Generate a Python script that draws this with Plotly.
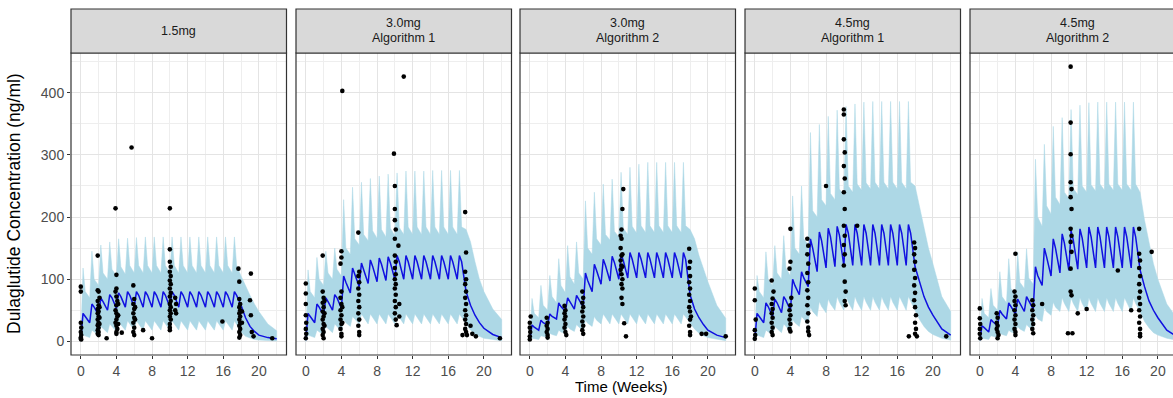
import plotly.graph_objects as go

# ---------------- data ----------------
panel_titles = ["1.5mg", "3.0mg|Algorithm 1", "3.0mg|Algorithm 2", "4.5mg|Algorithm 1", "4.5mg|Algorithm 2"]

# simulation time grid (weeks)
weeks_sim = [0, 0.25, 0.5, 1, 1.25, 1.5, 2, 2.25, 2.5, 3, 3.25, 3.5, 4, 4.25, 4.5, 5, 5.25, 5.5,
             6, 6.25, 6.5, 7, 7.25, 7.5, 8, 8.25, 8.5, 9, 9.25, 9.5, 10, 10.25, 10.5, 11, 11.25, 11.5,
             12, 12.25, 12.5, 13, 13.25, 13.5, 14, 14.25, 14.5, 15, 15.25, 15.5, 16, 16.25, 16.5,
             17, 17.25, 17.5, 18, 18.5, 19, 19.5, 20, 21, 22]

# 90% prediction interval upper / median / lower (ng/ml)
upper_1 = [0, 118, 80, 70, 145, 100, 90, 155, 110, 100, 160, 116, 105, 165, 120, 108, 166, 122,
           110, 167, 122, 110, 168, 122, 110, 168, 122, 110, 168, 122, 110, 168, 122, 110, 168, 122,
           110, 168, 122, 110, 168, 122, 110, 168, 122, 110, 168, 122, 110, 168, 122, 110, 168, 122,
           105, 88, 74, 60, 48, 28, 17]
median_1 = [2, 45, 40, 30, 60, 55, 42, 70, 64, 50, 75, 70, 53, 78, 72, 55, 80, 74,
            55, 80, 74, 55, 80, 74, 55, 80, 74, 55, 80, 74, 55, 80, 74, 55, 80, 74,
            55, 80, 74, 55, 80, 74, 55, 80, 74, 55, 80, 74, 55, 80, 74, 55, 80, 74,
            58, 38, 24, 16, 10, 6, 4]
lower_1 = [0, 10, 8, 6, 18, 15, 10, 24, 20, 14, 28, 24, 16, 31, 27, 18, 33, 28,
           18, 33, 28, 18, 33, 28, 18, 33, 28, 18, 33, 28, 18, 33, 28, 18, 33, 28,
           18, 33, 28, 18, 33, 28, 18, 33, 28, 18, 33, 28, 18, 33, 28, 18, 33, 28,
           15, 8, 5, 3, 2, 1, 0.5]

upper_2 = [0, 115, 80, 70, 135, 100, 90, 145, 110, 100, 150, 116, 105, 228, 150, 140, 248, 165,
           155, 256, 172, 162, 262, 178, 166, 266, 180, 168, 269, 182, 170, 271, 183, 172, 274, 184,
           172, 274, 184, 172, 274, 184, 172, 275, 184, 172, 275, 184, 172, 275, 184, 172, 275, 184,
           180, 160, 128, 100, 80, 52, 35]
median_2 = [2, 45, 40, 30, 60, 55, 42, 70, 64, 50, 75, 70, 53, 105, 95, 78, 118, 108,
            88, 126, 116, 93, 131, 121, 96, 134, 124, 98, 136, 126, 100, 138, 128, 100, 138, 128,
            100, 138, 128, 100, 138, 128, 100, 138, 128, 100, 138, 128, 100, 138, 128, 100, 138, 128,
            80, 58, 42, 30, 21, 11, 6]
lower_2 = [0, 10, 8, 6, 18, 15, 10, 24, 20, 14, 28, 24, 16, 35, 30, 24, 40, 35,
           28, 44, 38, 28, 44, 38, 28, 44, 38, 28, 44, 38, 28, 44, 38, 28, 44, 38,
           28, 44, 38, 28, 44, 38, 28, 44, 38, 28, 44, 38, 28, 44, 38, 28, 44, 38,
           28, 18, 12, 8, 5, 3, 1]

upper_3 = [0, 69, 45, 38, 90, 58, 50, 106, 72, 62, 133, 90, 78, 154, 104, 92, 160, 110,
           100, 226, 150, 140, 240, 165, 155, 253, 172, 163, 261, 177, 168, 272, 182, 172, 280, 185,
           174, 285, 186, 175, 288, 186, 175, 288, 186, 175, 288, 186, 175, 288, 186, 175, 288, 186,
           180, 165, 138, 115, 96, 58, 37]
median_3 = [2, 26, 23, 18, 34, 30, 26, 44, 40, 36, 62, 56, 48, 70, 64, 52, 74, 68,
            55, 110, 98, 80, 124, 114, 92, 132, 122, 97, 137, 127, 100, 140, 130, 102, 143, 132,
            102, 143, 132, 102, 143, 132, 102, 143, 132, 102, 143, 132, 102, 143, 132, 102, 143, 132,
            75, 52, 38, 27, 18, 10, 6]
lower_3 = [0, 5, 4, 3, 9, 8, 6, 13, 11, 9, 18, 15, 13, 24, 20, 16, 27, 23,
           18, 34, 29, 24, 40, 34, 28, 44, 38, 28, 44, 38, 28, 44, 38, 28, 44, 38,
           28, 44, 38, 28, 44, 38, 28, 44, 38, 28, 44, 38, 28, 44, 38, 28, 44, 38,
           30, 20, 13, 9, 6, 3, 1]

upper_4 = [0, 106, 80, 70, 144, 100, 90, 154, 110, 100, 170, 118, 105, 234, 150, 140, 250, 165,
           155, 336, 210, 200, 349, 228, 218, 362, 238, 228, 372, 245, 235, 378, 250, 240, 382, 253,
           243, 385, 255, 245, 386, 256, 245, 386, 256, 245, 386, 256, 245, 386, 256, 245, 386, 256,
           250, 215, 180, 150, 125, 72, 48]
median_4 = [2, 45, 40, 30, 62, 56, 40, 68, 62, 46, 72, 66, 50, 100, 90, 75, 112, 102,
            88, 165, 150, 112, 176, 162, 118, 182, 168, 120, 185, 171, 122, 188, 174, 122, 188, 174,
            122, 188, 174, 122, 188, 174, 122, 188, 174, 122, 188, 174, 122, 188, 174, 122, 188, 174,
            120, 95, 72, 55, 42, 20, 10]
lower_4 = [0, 10, 8, 6, 18, 15, 10, 24, 20, 14, 28, 24, 16, 35, 30, 24, 40, 35,
           28, 55, 48, 40, 64, 56, 46, 68, 60, 50, 72, 63, 50, 72, 63, 50, 72, 63,
           50, 72, 63, 50, 72, 63, 50, 72, 63, 50, 72, 63, 50, 72, 63, 50, 72, 63,
           50, 35, 24, 16, 11, 5, 2]

upper_5 = [0, 69, 45, 38, 85, 58, 50, 112, 72, 62, 133, 85, 75, 144, 95, 85, 149, 102,
           92, 293, 200, 185, 317, 218, 205, 346, 232, 220, 360, 240, 230, 373, 246, 236, 380, 250,
           240, 384, 252, 242, 385, 253, 243, 385, 253, 243, 385, 253, 243, 385, 253, 243, 385, 253,
           240, 195, 160, 125, 100, 60, 40]
median_5 = [2, 25, 22, 15, 35, 31, 25, 50, 44, 36, 62, 56, 44, 68, 62, 48, 72, 66,
            52, 120, 106, 90, 150, 136, 105, 165, 150, 110, 173, 158, 114, 178, 163, 116, 181, 166,
            118, 184, 168, 118, 184, 168, 118, 184, 168, 118, 184, 168, 118, 184, 168, 118, 184, 168,
            115, 88, 65, 50, 38, 18, 9]
lower_5 = [0, 5, 4, 3, 9, 8, 6, 13, 11, 9, 18, 15, 13, 24, 20, 16, 27, 23,
           18, 42, 36, 32, 55, 48, 42, 63, 55, 48, 70, 61, 48, 70, 61, 48, 70, 61,
           48, 70, 61, 48, 70, 61, 48, 70, 61, 48, 70, 61, 48, 70, 61, 48, 70, 61,
           48, 32, 22, 14, 10, 5, 2]

# observed concentrations: (week, ng/ml)
obs_1 = [(0, 88), (0, 80), (0, 30), (0.05, 22), (0, 15), (0.05, 10), (0, 6), (0, 4), (0.05, 3),
         (1.9, 138), (1.9, 82), (2, 80), (1.9, 65), (2, 58), (1.9, 52), (2, 48), (1.9, 45), (2, 40),
         (1.9, 35), (2, 30), (1.9, 26), (2, 22), (1.9, 18), (2, 15), (1.9, 12), (2, 10), (2.1, 70),
         (2.1, 55), (2.1, 38), (2.1, 28), (2.9, 5),
         (3.9, 214), (4, 107), (4, 85), (3.9, 80), (4, 72), (4.1, 65), (4, 58), (3.9, 50), (4, 45),
         (4.1, 40), (4, 35), (3.9, 30), (4, 25), (4.1, 20), (4, 15), (4, 12), (4.2, 60), (4.2, 42),
         (4.2, 28), (4.6, 14),
         (5.7, 312), (5.9, 90), (6, 68), (5.9, 60), (6, 52), (5.9, 45), (6, 38), (5.9, 30), (6, 22),
         (5.9, 15), (6, 10), (6.1, 55), (6.1, 35), (7, 18), (8, 5),
         (10, 214), (10, 148), (10, 128), (10.1, 120), (10, 112), (10.1, 105), (10, 98), (10.1, 92),
         (10, 85), (10.1, 78), (10, 72), (10.1, 65), (10, 60), (10.1, 55), (10, 50), (10.1, 45),
         (10, 40), (10.1, 35), (10, 28), (10, 22), (10, 18), (10.6, 70), (10.7, 60), (10.6, 50),
         (10.7, 45), (15.9, 32),
         (17.7, 117), (17.8, 96), (17.8, 68), (17.9, 60), (17.8, 55), (17.9, 50), (17.8, 45),
         (17.9, 40), (17.8, 35), (17.9, 30), (17.8, 25), (17.9, 20), (17.8, 15), (17.9, 10),
         (17.8, 6), (18.1, 48), (18.1, 30), (19.1, 109), (19, 66), (19.1, 42), (19.2, 15),
         (19.4, 8), (21.5, 5)]
obs_2 = [(0, 93), (0, 77), (0, 42), (0.05, 30), (0, 20), (0.05, 12), (0, 5), (0, 60),
         (1.9, 138), (1.9, 80), (2, 70), (1.9, 62), (2, 55), (1.9, 48), (2, 40), (1.9, 35), (2, 28),
         (1.9, 20), (2, 15), (1.9, 10), (2, 5), (2.1, 65), (2.1, 45), (2.1, 25),
         (4.1, 403), (4, 145), (4, 135), (3.9, 125), (4, 80), (3.9, 70), (4, 60), (3.9, 50), (4, 42),
         (3.9, 35), (4, 28), (3.9, 20), (4, 12), (4, 8), (4.1, 55), (4.1, 30),
         (5.9, 175), (6, 112), (5.9, 105), (6, 95), (5.9, 85), (6, 75), (5.9, 65), (6, 55),
         (5.9, 45), (6, 35), (5.9, 25), (6, 15), (6, 10),
         (9.9, 302), (10, 250), (10, 213), (10, 195), (10.1, 180), (10, 165), (10, 138),
         (10.1, 128), (10, 118), (10.1, 108), (10, 100), (10.1, 92), (10, 85), (10.1, 75),
         (10, 65), (10.1, 55), (10, 45), (10.1, 35), (10.2, 26), (10.4, 154), (10.5, 60),
         (10.5, 40), (11, 426),
         (17.6, 10), (17.9, 208), (18, 143), (17.9, 112), (18, 100), (17.9, 92), (18, 80),
         (17.9, 70), (18, 60), (17.9, 50), (18, 42), (17.9, 35), (18, 28), (17.9, 20), (18, 15),
         (18.1, 10), (18.5, 25), (18.7, 12), (19.1, 8), (21.8, 5)]
obs_3 = [(0, 30), (0, 22), (0.05, 15), (0, 8), (0, 3), (0.1, 40),
         (1.9, 38), (2, 30), (1.9, 25), (2, 20), (1.9, 15), (2, 10), (2, 6),
         (3.9, 57), (4, 50), (3.9, 45), (4, 40), (3.9, 35), (4, 28), (3.9, 22), (4, 15), (4.1, 10),
         (5.9, 80), (6, 70), (5.9, 62), (6, 55), (5.9, 48), (6, 40), (5.9, 32), (6, 25), (5.9, 18),
         (6, 12),
         (10.5, 245), (10.4, 213), (10.3, 180), (10.2, 170), (10.3, 165), (10.2, 150), (10.3, 138),
         (10.2, 130), (10.3, 122), (10.2, 115), (10.3, 108), (10.4, 100), (10.3, 92), (10.4, 85),
         (10.3, 70), (10.4, 60), (10.6, 29), (10.8, 8), (10.4, 140), (10.4, 120),
         (17.9, 149), (18, 128), (17.9, 118), (18, 105), (17.9, 95), (18, 85), (17.9, 75), (18, 65),
         (17.9, 55), (18, 48), (18.1, 40), (18, 35), (17.9, 25), (18, 15), (18, 10),
         (19.3, 12), (19.8, 12), (22, 8)]
obs_4 = [(0, 85), (0, 66), (0, 18), (0.05, 10), (0, 4), (0.1, 35),
         (1.9, 98), (2, 69), (1.9, 60), (2, 52), (1.9, 45), (2, 38), (1.9, 30), (2, 22), (1.9, 15),
         (2, 10), (2.1, 80),
         (4, 181), (4, 128), (3.9, 117), (4, 58), (3.9, 50), (4, 42), (3.9, 35), (4, 28), (3.9, 20),
         (4, 16), (4.1, 70),
         (5.9, 165), (6, 154), (5.9, 140), (6, 125), (5.9, 110), (6, 95), (5.9, 82), (6, 70),
         (5.9, 58), (6, 45), (5.9, 32), (6, 22), (6, 16), (6.1, 10), (8, 250),
         (10, 373), (10, 365), (10, 325), (10.1, 304), (10, 282), (10.1, 262), (10, 240),
         (10.1, 213), (10, 186), (10.1, 170), (10, 155), (10.1, 140), (10, 122), (10.1, 96),
         (10.2, 80), (10.1, 65), (10.2, 58), (11.5, 186),
         (17.3, 8), (17.9, 159), (18, 150), (17.9, 140), (18, 128), (17.9, 115), (18, 102),
         (17.9, 90), (18, 78), (17.9, 66), (18, 55), (18.1, 42), (18, 30), (18.1, 20), (18, 12),
         (18.2, 8), (21.5, 8)]
obs_5 = [(0, 53), (0, 37), (0.05, 28), (0, 20), (0, 12), (0.05, 5),
         (1.9, 45), (2, 38), (1.9, 30), (2, 25), (1.9, 20), (2, 15), (2.1, 10), (2, 5),
         (4, 141), (3.9, 80), (4, 72), (3.9, 65), (4, 58), (3.9, 50), (4, 42), (3.9, 35), (4, 28),
         (3.9, 20), (4, 15), (4, 10),
         (5.9, 66), (6, 58), (5.9, 50), (6, 42), (5.9, 35), (6, 28), (5.9, 20), (6, 13), (7, 60),
         (10.2, 442), (10.2, 352), (10.2, 301), (10.2, 256), (10.3, 245), (10.2, 232), (10.3, 213),
         (10.2, 181), (10.3, 170), (10.2, 160), (10.3, 144), (10.2, 117), (10.2, 80), (10.3, 74),
         (9.9, 13), (10.4, 13), (11, 45), (12, 52), (15.5, 114), (17, 50),
         (17.9, 181), (17.9, 141), (18, 130), (17.9, 118), (18, 105), (17.9, 92), (18, 80),
         (17.9, 70), (18, 60), (17.9, 50), (18, 40), (17.9, 30), (18, 20), (18, 12), (18, 8),
         (19.3, 144)]

x_ticks = [0, 4, 8, 12, 16, 20]
y_ticks = [0, 100, 200, 300, 400]

uppers = [upper_1, upper_2, upper_3, upper_4, upper_5]
medians = [median_1, median_2, median_3, median_4, median_5]
lowers = [lower_1, lower_2, lower_3, lower_4, lower_5]
observed = [obs_1, obs_2, obs_3, obs_4, obs_5]
for arr in uppers + medians + lowers:
    assert len(arr) == len(weeks_sim), len(arr)

# ---------------- layout geometry (pixels) ----------------
W, H = 1173, 398
panel_left = [71, 296, 520, 745, 970]
panel_w = 215.5
plot_top, plot_bot = 53, 355
strip_top = 9
x_full = [-1.1, 23.1]
px_per_week = panel_w / (x_full[1] - x_full[0])
y_range = [-22, 464]

FONT = "Liberation Sans, Arial, sans-serif"
GRID = "#E4E4E4"
GRID_MINOR = "#EEEEEE"
BORDER = "#333333"

fig = go.Figure()
layout = dict(
    width=W, height=H, autosize=False,
    margin=dict(l=0, r=0, t=0, b=0),
    paper_bgcolor="white", plot_bgcolor="white",
    showlegend=False, font=dict(family=FONT),
)
shapes, annotations = [], []

def px_x(v):
    return v / W

def px_y(v):
    return (H - v) / H

for i in range(5):
    sfx = "" if i == 0 else str(i + 1)
    left = panel_left[i]
    right = min(left + panel_w, W)
    xr = [x_full[0], x_full[0] + (right - left) / px_per_week]

    t = weeks_sim
    fig.add_trace(go.Scatter(
        x=t + t[::-1], y=uppers[i] + lowers[i][::-1],
        fill="toself", fillcolor="#ADD8E6", mode="lines",
        line=dict(color="#ADD8E6", width=0.5), hoverinfo="skip",
        xaxis="x" + sfx, yaxis="y" + sfx))
    fig.add_trace(go.Scatter(
        x=t, y=medians[i], mode="lines",
        line=dict(color="#1010E0", width=1.5),
        xaxis="x" + sfx, yaxis="y" + sfx))
    ox = [p[0] for p in observed[i]]
    oy = [p[1] for p in observed[i]]
    fig.add_trace(go.Scatter(
        x=ox, y=oy, mode="markers",
        marker=dict(color="black", size=4.6),
        xaxis="x" + sfx, yaxis="y" + sfx))

    layout["xaxis" + sfx] = dict(
        domain=[px_x(left), px_x(right)], range=xr, anchor="y" + sfx,
        tickmode="array", tickvals=x_ticks, ticks="outside", ticklen=3,
        tickcolor=BORDER, tickwidth=1,
        tickfont=dict(family=FONT, size=14, color="#4D4D4D"),
        showgrid=True, gridcolor=GRID, gridwidth=1,
        minor=dict(tickmode="array", tickvals=[2, 6, 10, 14, 18, 22],
                   showgrid=True, gridcolor=GRID_MINOR, gridwidth=0.7, ticks=""),
        zeroline=False, showline=False, fixedrange=True)
    layout["yaxis" + sfx] = dict(
        domain=[px_y(plot_bot), px_y(plot_top)], range=y_range, anchor="x" + sfx,
        tickmode="array", tickvals=y_ticks,
        ticks="outside" if i == 0 else "", ticklen=3, tickcolor=BORDER, tickwidth=1,
        showticklabels=(i == 0),
        tickfont=dict(family=FONT, size=14, color="#4D4D4D"),
        showgrid=True, gridcolor=GRID, gridwidth=1,
        minor=dict(tickmode="array", tickvals=[50, 150, 250, 350, 450],
                   showgrid=True, gridcolor=GRID_MINOR, gridwidth=0.7, ticks=""),
        zeroline=False, showline=False, fixedrange=True)

    # panel border
    shapes.append(dict(type="rect", xref="paper", yref="paper",
                       x0=px_x(left), x1=px_x(left + panel_w),
                       y0=px_y(plot_bot), y1=px_y(plot_top),
                       line=dict(color=BORDER, width=1.2), fillcolor="rgba(0,0,0,0)",
                       layer="above"))
    # strip
    shapes.append(dict(type="rect", xref="paper", yref="paper",
                       x0=px_x(left), x1=px_x(left + panel_w),
                       y0=px_y(plot_top), y1=px_y(strip_top),
                       line=dict(color=BORDER, width=1.2), fillcolor="#D9D9D9",
                       layer="above"))
    cx = px_x(left + panel_w / 2)
    lines = panel_titles[i].split("|")
    if len(lines) == 1:
        ys = [31]
    else:
        ys = [23.5, 37.5]
    for txt, yy in zip(lines, ys):
        annotations.append(dict(text=txt, x=cx, y=px_y(yy), xref="paper", yref="paper",
                                showarrow=False, xanchor="center", yanchor="middle",
                                font=dict(family=FONT, size=12.5, color="#1A1A1A")))

annotations.append(dict(text="Dulaglutide Concentration (ng/ml)", x=px_x(14), y=px_y(204),
                        xref="paper", yref="paper", showarrow=False, textangle=-90,
                        xanchor="center", yanchor="middle",
                        font=dict(family=FONT, size=17.5, color="black")))
annotations.append(dict(text="Time (Weeks)", x=px_x(621), y=px_y(386),
                        xref="paper", yref="paper", showarrow=False,
                        xanchor="center", yanchor="middle",
                        font=dict(family=FONT, size=15, color="black")))

layout["shapes"] = shapes
layout["annotations"] = annotations
fig.update_layout(**layout)
fig.write_html("out.html")
